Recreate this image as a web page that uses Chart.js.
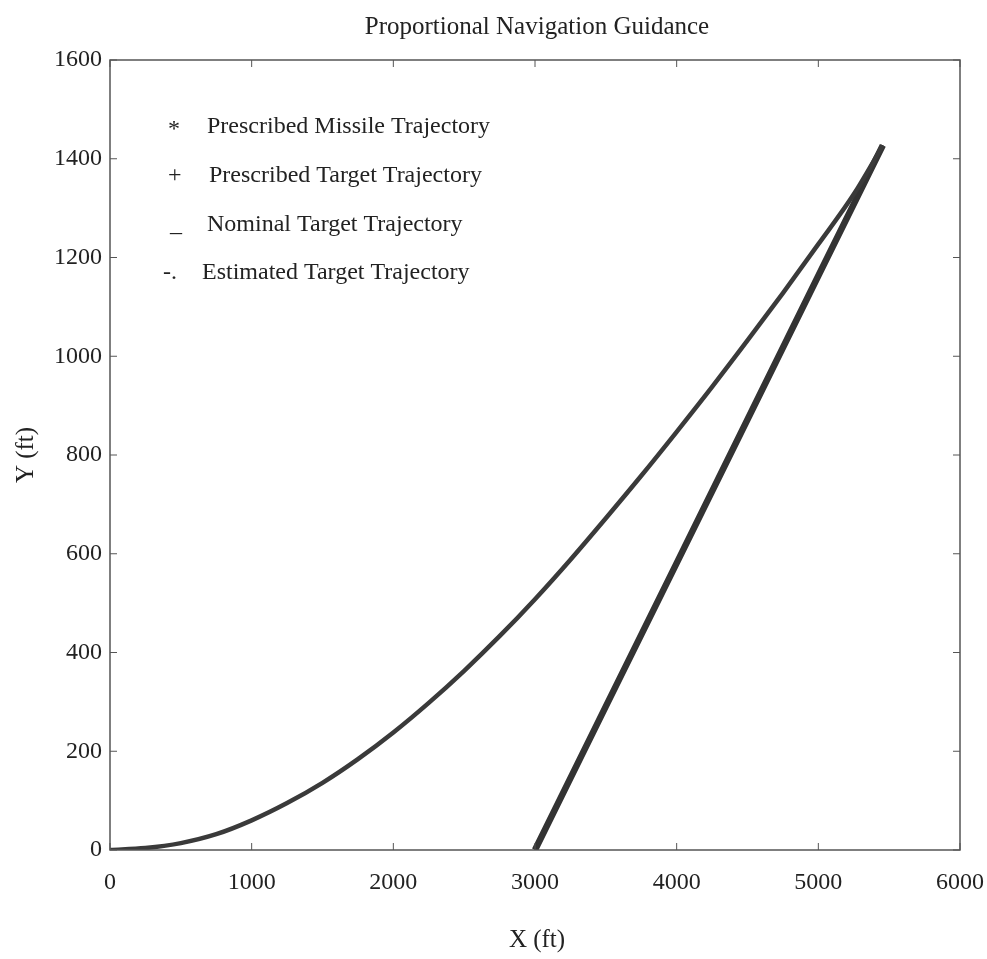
<!DOCTYPE html>
<html>
<head>
<meta charset="utf-8">
<script src="https://cdn.jsdelivr.net/npm/chart.js@4"></script>
<style>
  html, body { margin: 0; padding: 0; background: #fff; }
  #wrap { width: 987px; height: 959px; }
</style>
</head>
<body>
<div id="wrap"><canvas id="pngChart" width="987" height="959"></canvas></div>
<script>
// values (ft)
const missileX = [0, 250, 500, 750, 1000, 1250, 1500, 1750, 2000, 2250, 2500, 2750, 3000, 3250, 3500, 3750, 4000, 4250, 4500, 4750, 5000, 5250, 5455];
const missileY = [0, 4, 14, 32, 60, 95, 136, 184, 238, 298, 363, 433, 508, 588, 672, 758, 847, 938, 1032, 1128, 1227, 1328, 1427];
const targetX = [3000, 3500, 4000, 4500, 5000, 5455];
const targetY = [0, 291, 581, 872, 1163, 1427];
const xTicks = [0, 1000, 2000, 3000, 4000, 5000, 6000];
const yTicks = [0, 200, 400, 600, 800, 1000, 1200, 1400, 1600];
const legendSymbols = ['*', '+', '_', '-.'];
const legendLabels = ['Prescribed Missile Trajectory', 'Prescribed Target Trajectory', 'Nominal Target Trajectory', 'Estimated Target Trajectory'];

const serif = '"Liberation Serif", "DejaVu Serif", serif';
const toPoints = (xs, ys) => xs.map((x, i) => ({ x: x, y: ys[i] }));

const framePlugin = {
  id: 'frame',
  afterDraw(chart) {
    const { ctx, chartArea: { left, right, top, bottom }, scales: { x, y } } = chart;
    ctx.save();
    ctx.strokeStyle = '#555';
    ctx.lineWidth = 1.5;
    ctx.strokeRect(left, top, right - left, bottom - top);
    ctx.lineWidth = 1;
    xTicks.forEach(v => {
      const px = x.getPixelForValue(v);
      ctx.beginPath();
      ctx.moveTo(px, bottom); ctx.lineTo(px, bottom - 7);
      ctx.moveTo(px, top); ctx.lineTo(px, top + 7);
      ctx.stroke();
    });
    yTicks.forEach(v => {
      const py = y.getPixelForValue(v);
      ctx.beginPath();
      ctx.moveTo(left, py); ctx.lineTo(left + 7, py);
      ctx.moveTo(right, py); ctx.lineTo(right - 7, py);
      ctx.stroke();
    });

    ctx.fillStyle = '#222';
    ctx.textBaseline = 'middle';
    // title
    ctx.font = '25px ' + serif;
    ctx.textAlign = 'center';
    ctx.fillText('Proportional Navigation Guidance', 537, 27);
    // axis titles
    ctx.fillText('X (ft)', 537, 940);
    ctx.save();
    ctx.translate(26, 455);
    ctx.rotate(-Math.PI / 2);
    ctx.fillText('Y (ft)', 0, 0);
    ctx.restore();
    // legend (text only, as in the figure)
    ctx.textAlign = 'left';
    ctx.font = '24px ' + serif;
    const rowsY = [127, 176, 225, 273];
    const symX = [168, 168, 170, 163];
    const txtX = [207, 209, 207, 202];
    legendLabels.forEach((lab, i) => {
      ctx.fillText(legendSymbols[i], symX[i], rowsY[i] + (i === 0 ? 3 : 0));
      ctx.fillText(lab, txtX[i], rowsY[i]);
    });
    ctx.restore();
  }
};

new Chart(document.getElementById('pngChart').getContext('2d'), {
  type: 'scatter',
  data: {
    datasets: [
      {
        label: legendLabels[0],
        data: toPoints(missileX, missileY),
        showLine: true,
        borderColor: '#3a3a3a',
        borderWidth: 4.5,
        pointRadius: 0,
        cubicInterpolationMode: 'monotone'
      },
      {
        label: legendLabels[1],
        data: toPoints(targetX, targetY),
        showLine: true,
        borderColor: '#333',
        borderWidth: 6.5,
        pointRadius: 0
      },
      {
        label: legendLabels[2],
        data: toPoints(targetX, targetY),
        showLine: true,
        borderColor: '#222',
        borderWidth: 2,
        pointRadius: 0
      },
      {
        label: legendLabels[3],
        data: toPoints(targetX, targetY),
        showLine: true,
        borderColor: '#111',
        borderWidth: 1.5,
        borderDash: [8, 3, 2, 3],
        pointRadius: 0
      }
    ]
  },
  options: {
    responsive: false,
    animation: false,
    layout: { padding: { top: 60, right: 27, left: 0, bottom: 0 } },
    plugins: {
      legend: { display: false },
      tooltip: { enabled: false },
      title: { display: false }
    },
    scales: {
      x: {
        type: 'linear',
        min: 0,
        max: 6000,
        afterFit: s => { s.height = 109; s.paddingLeft = 0; s.paddingRight = 0; },
        afterBuildTicks: s => { s.ticks = xTicks.map(v => ({ value: v })); },
        grid: { display: false },
        border: { display: false },
        ticks: { padding: 10, color: '#222', font: { family: serif, size: 24 }, maxRotation: 0, callback: v => String(v) }
      },
      y: {
        type: 'linear',
        min: 0,
        max: 1600,
        afterFit: s => { s.width = 110; s.paddingTop = 0; s.paddingBottom = 0; },
        afterBuildTicks: s => { s.ticks = yTicks.map(v => ({ value: v })); },
        grid: { display: false },
        border: { display: false },
        ticks: { padding: 0, color: '#222', font: { family: serif, size: 24 }, callback: v => String(v) }
      }
    }
  },
  plugins: [framePlugin]
});
</script>
</body>
</html>
